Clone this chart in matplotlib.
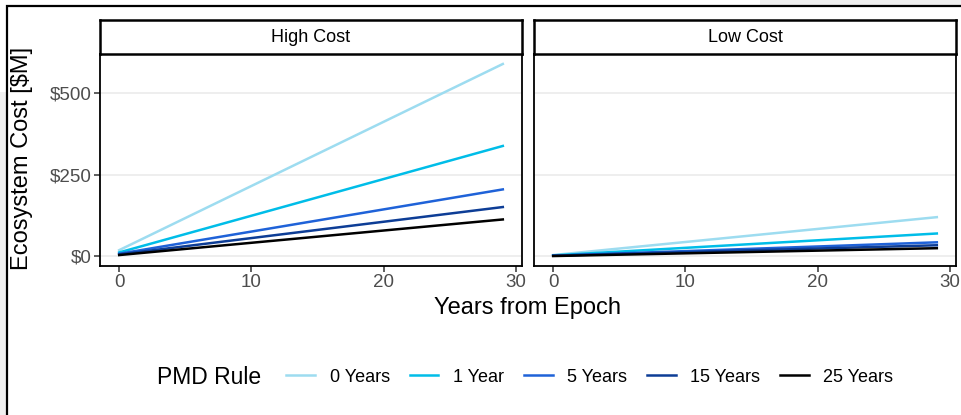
import matplotlib.pyplot as plt
from matplotlib.patches import Rectangle
from matplotlib.lines import Line2D
from matplotlib.ticker import FuncFormatter

plt.rcParams['font.family'] = ['Liberation Sans', 'DejaVu Sans']

# data (cost in $M at year 0 and year 29)
years = [0, 29]
panels = ["High Cost", "Low Cost"]
rules = ["0 Years", "1 Year", "5 Years", "15 Years", "25 Years"]
colors = ["#9ddcf0", "#00bde8", "#1f62d8", "#0d3d96", "#000000"]
high_cost = {
    "0 Years": [19, 589],
    "1 Year": [12, 338],
    "5 Years": [8, 205],
    "15 Years": [6, 151],
    "25 Years": [4, 113],
}
low_cost = {
    "0 Years": [4, 120],
    "1 Year": [3, 70],
    "5 Years": [2, 43],
    "15 Years": [2, 34],
    "25 Years": [1, 25],
}
y_ticks = [0, 250, 500]
x_ticks = [0, 10, 20, 30]

W, H = 961, 415
fig = plt.figure(figsize=(W / 100, H / 100), dpi=100)


def px(x0, y0, x1, y1):
    """pixel box (top-left origin) -> figure rect"""
    return [x0 / W, 1 - y1 / H, (x1 - x0) / W, (y1 - y0) / H]


# slide background bits
fig.patches.append(Rectangle((0, 0), 7 / W, 1 - 92 / H, transform=fig.transFigure,
                             facecolor="#f0f0f0", edgecolor="none", zorder=0))
fig.patches.append(Rectangle((760 / W, 1 - 5 / H), 201 / W, 5 / H, transform=fig.transFigure,
                             facecolor="#efefef", edgecolor="none", zorder=0))
fig.patches.append(Rectangle((7 / W, -0.1), 1.1, 1.1 - 6 / H, transform=fig.transFigure,
                             facecolor="none", edgecolor="black", lw=1.6, zorder=1))

boxes = [(100, 522), (534, 956)]
data = [high_cost, low_cost]

for i, (name, (x0, x1), d) in enumerate(zip(panels, boxes, data)):
    ax = fig.add_axes(px(x0, 54, x1, 266))
    for rule, c in zip(rules, colors):
        ax.plot(years, d[rule], color=c, lw=1.8)
    ax.set_xlim(-1.45, 30.45)
    ax.set_ylim(-29.5, 619.5)
    ax.set_xticks(x_ticks)
    ax.set_yticks(y_ticks)
    ax.yaxis.set_major_formatter(FuncFormatter(lambda v, p: f"${v:.0f}"))
    ax.grid(axis="y", color="#ebebeb", lw=1.2)
    ax.set_axisbelow(True)
    for s in ax.spines.values():
        s.set_color("black")
        s.set_linewidth(1.3)
    ax.tick_params(colors="#333333", labelcolor="#4d4d4d", labelsize=13.5,
                   length=4, width=1.1, pad=2)
    if i > 0:
        ax.tick_params(axis="y", labelleft=False, length=0)

    sx = fig.add_axes(px(x0, 20, x1, 54))
    sx.set_xticks([])
    sx.set_yticks([])
    for s in sx.spines.values():
        s.set_linewidth(1.8)
    sx.text(0.5, 0.5, name, ha="center", va="center", fontsize=13, transform=sx.transAxes)

fig.text(528 / W, 1 - 308 / H, "Years from Epoch", ha="center", va="center", fontsize=17)
fig.text(22 / W, 1 - 158 / H, "Ecosystem Cost [$M]", ha="center", va="center",
         rotation=90, fontsize=17)

# legend
fig.text(157 / W, 1 - 377 / H, "PMD Rule", ha="left", va="center", fontsize=16.5)
handles = [Line2D([], [], color=c, lw=1.8) for c in colors]
fig.legend(handles, rules, loc="center left", bbox_to_anchor=(270 / W, 1 - 377 / H),
           ncol=5, frameon=False, fontsize=13, handlelength=1.6, handletextpad=0.8,
           columnspacing=1.1)

fig.savefig("out.png", dpi=100)
